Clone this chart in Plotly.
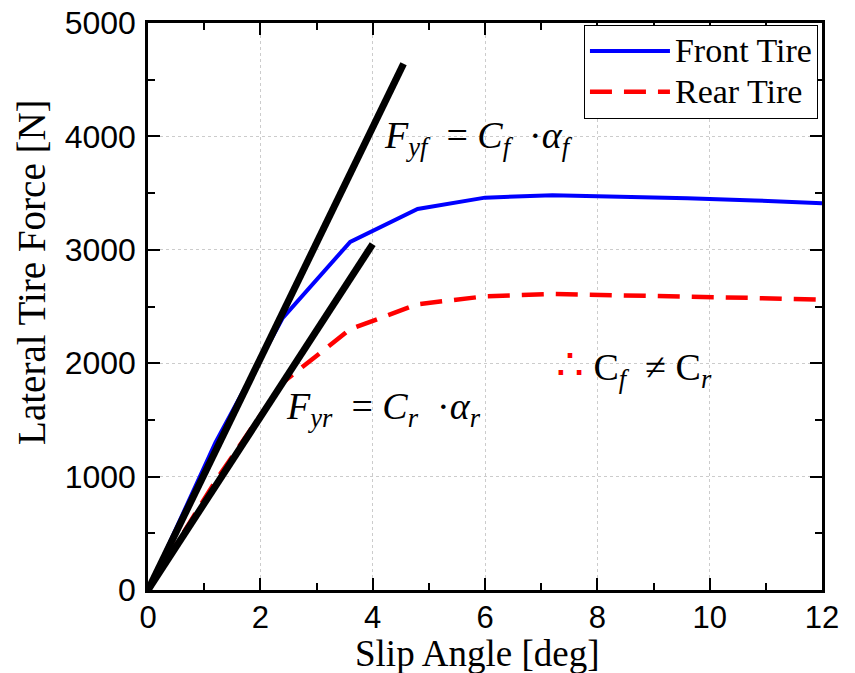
import plotly.graph_objects as go

slip_angle = [0, 1.2, 2.4, 3.6, 4.8, 6.0, 7.2, 8.4, 9.6, 10.8, 12.0]
front_tire = [0, 1300, 2400, 3070, 3360, 3460, 3480, 3470, 3455, 3435, 3410]
rear_tire = [0, 960, 1830, 2300, 2520, 2590, 2610, 2600, 2590, 2575, 2560]

front_tangent_x = [0, 4.55]
front_tangent_y = [0, 4640]
rear_tangent_x = [0, 4.0]
rear_tangent_y = [0, 3050]

x_ticks = [0, 2, 4, 6, 8, 10, 12]
y_ticks = [0, 1000, 2000, 3000, 4000, 5000]

SERIF = "Liberation Serif, Times New Roman, serif"
SANS = "Liberation Sans, Arial, sans-serif"

fig = go.Figure()
fig.add_trace(go.Scatter(x=slip_angle, y=front_tire, mode="lines",
                         name="<span style='font-size:34px'>Front Tire</span>",
                         line=dict(color="#0000FF", width=4)))
fig.add_trace(go.Scatter(x=slip_angle, y=rear_tire, mode="lines",
                         name="<span style='font-size:34px'>Rear Tire</span>",
                         line=dict(color="#FF0000", width=4.5, dash="22px,12px")))
fig.add_trace(go.Scatter(x=front_tangent_x, y=front_tangent_y, mode="lines", showlegend=False,
                         line=dict(color="black", width=7)))
fig.add_trace(go.Scatter(x=rear_tangent_x, y=rear_tangent_y, mode="lines", showlegend=False,
                         line=dict(color="black", width=7)))

axis_common = dict(
    showline=True, linecolor="black", linewidth=2.5, mirror="allticks",
    ticks="inside", ticklen=12, tickwidth=2, tickcolor="black",
    showgrid=True, gridcolor="#cccccc", gridwidth=1, griddash="dot",
    zeroline=False, automargin=False,
)

fig.update_xaxes(range=[0, 12], tickvals=x_ticks,
                 minor=dict(dtick=1, tick0=0, ticks="inside", ticklen=7, tickwidth=2,
                            tickcolor="black", showgrid=False),
                 tickfont=dict(family=SANS, size=31, color="black"),
                 ticklabelstandoff=-2, **axis_common)
fig.update_yaxes(range=[0, 5000], tickvals=y_ticks,
                 minor=dict(dtick=500, tick0=0, ticks="inside", ticklen=7, tickwidth=2,
                            tickcolor="black", showgrid=False),
                 tickfont=dict(family=SANS, size=32, color="black"),
                 ticklabelstandoff=3, **axis_common)

annotations = [
    dict(text="Slip Angle [deg]", xref="paper", yref="paper", x=0.489, y=-0.072,
         xanchor="center", yanchor="top", showarrow=False,
         font=dict(family=SERIF, size=37, color="black")),
    dict(text="Lateral Tire Force [N]", xref="paper", yref="paper", x=-0.173, y=0.56,
         xanchor="center", yanchor="middle", textangle=-90, showarrow=False,
         font=dict(family=SERIF, size=39, color="black")),
    dict(text="<i>F</i><sub><i>yf</i></sub>  = <i>C</i><sub><i>f</i></sub>  ·<i>α</i><sub><i>f</i></sub>",
         x=4.16, y=3990, xanchor="left", yanchor="middle", showarrow=False,
         font=dict(family=SERIF, size=38, color="black")),
    dict(text="<i>F</i><sub><i>yr</i></sub>  = <i>C</i><sub><i>r</i></sub>  ·<i>α</i><sub><i>r</i></sub>",
         x=2.43, y=1600, xanchor="left", yanchor="middle", showarrow=False,
         font=dict(family=SERIF, size=38, color="black")),
    dict(text="<span style='color:#FF0000;font-size:44px'>∴</span> C<sub><i>f</i></sub>  ≠ C<sub><i>r</i></sub>",
         x=7.22, y=1960, xanchor="left", yanchor="middle", showarrow=False,
         font=dict(family=SERIF, size=38, color="black")),
]

fig.update_layout(
    width=855, height=673,
    margin=dict(l=148, r=33, t=23, b=83, autoexpand=False),
    paper_bgcolor="white", plot_bgcolor="white",
    showlegend=True,
    legend=dict(x=0.994, y=0.997, xanchor="right", yanchor="top",
                bgcolor="white", bordercolor="black", borderwidth=1,
                font=dict(family=SERIF, size=29, color="black"),
                itemwidth=80, tracegroupgap=0),
    annotations=annotations,
)

fig.write_html("out.html", config={"displayModeBar": False},
               post_script="document.body.style.margin='0';")
